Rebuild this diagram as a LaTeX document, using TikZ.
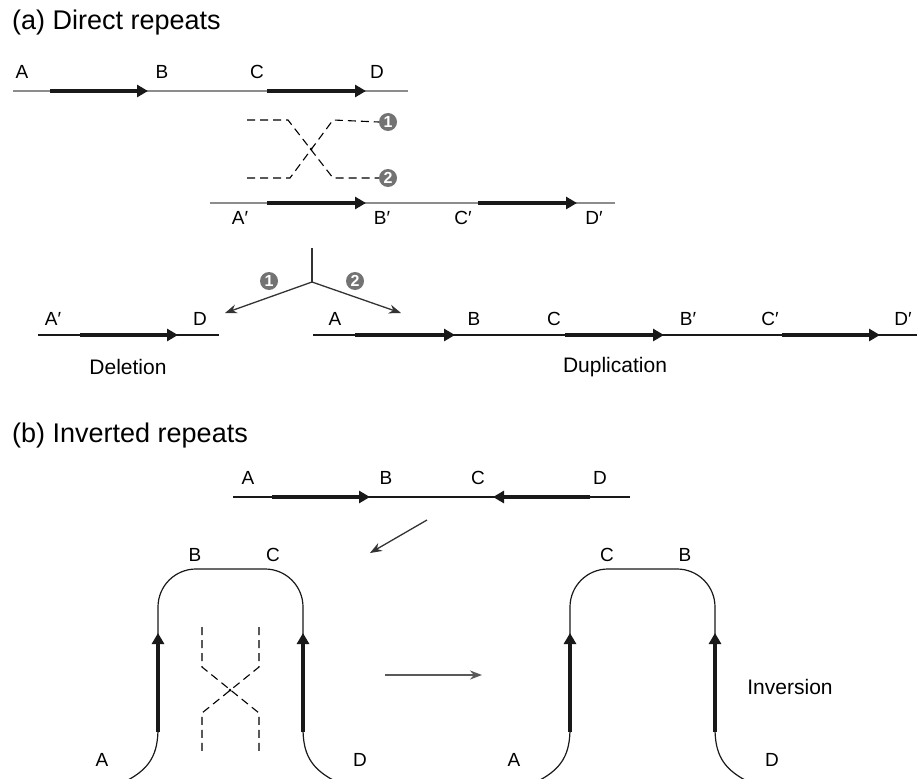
\documentclass[tikz,border=0pt]{standalone}
\usepackage{fontspec}
\setmainfont{Liberation Sans}
\usetikzlibrary{arrows.meta}

\tikzset{
	dna/.style = {line width = 1.2pt, black!90},
	grey dna/.style = {line width = 2pt, black!45},
	rep/.style = {line width = 4pt, black!90, -{Triangle[length = 11pt, width = 12pt]}},
	swap/.style = {line width = 1.1pt, dash pattern = on 8pt off 5pt},
	lbl/.style = {inner sep = 0pt, font = \fontsize{19}{19}\selectfont},
	caption/.style = {inner sep = 0pt, font = \fontsize{21}{21}\selectfont},
	ttl/.style = {inner sep = 0pt, anchor = west, font = \fontsize{27}{27}\selectfont},
	num/.style = {circle, fill = black!55, text = white, inner sep = 0pt, minimum size = 18pt, font = \fontsize{16}{16}\selectfont\bfseries},
	to arrow/.style = {line width = 1.3pt, black!80, -{Stealth[length = 12pt, width = 9pt]}}
}

\begin{document}
\begin{tikzpicture}[x = 1pt, y = -1pt]
	\useasboundingbox (0,0) rectangle (917,778);

	\node[ttl] (title a) at (12,23) {(a) Direct repeats};

	\draw[grey dna] (13,91) -- (408,91);
	\draw[rep] (50,91) -- (148,91);
	\draw[rep] (267,91) -- (366,91);
	\node[lbl] (a A) at (22,72) {A};
	\node[lbl] (a B) at (162,72) {B};
	\node[lbl] (a C) at (257,72) {C};
	\node[lbl] (a D) at (377,72) {D};

	\node[num] (cross one) at (388,122) {1};
	\node[num] (cross two) at (388,178) {2};
	\draw[swap] (247,120) -- (288,120) -- (333,178) -- (cross two.west);
	\draw[swap] (247,178) -- (290,178) -- (333,120) -- (cross one.west);
	\fill (311,149) circle [radius = 1.5pt];

	\draw[grey dna] (210,203) -- (615,203);
	\draw[rep] (267,203) -- (366,203);
	\draw[rep] (478,203) -- (577,203);
	\node[lbl] (a A2) at (240,218) {A′};
	\node[lbl] (a B2) at (382,218) {B′};
	\node[lbl] (a C2) at (463,218) {C′};
	\node[lbl] (a D2) at (594,218) {D′};

	\coordinate (stem) at (312,248);
	\coordinate (fork) at (312,282);
	\coordinate (deletion end) at (225,313);
	\coordinate (duplication end) at (401,313);
	\draw[line width = 1.3pt, black!80] (stem) -- (fork);
	\draw[to arrow] (fork) -- (deletion end);
	\draw[to arrow] (fork) -- (duplication end);
	\node[num] (path one) at (269,281) {1};
	\node[num] (path two) at (355,281) {2};

	\draw[dna] (38,335) -- (219,335);
	\draw[rep] (80,335) -- (178,335);
	\node[lbl] (del A) at (53,319) {A′};
	\node[lbl] (del D) at (200,319) {D};
	\node[caption] (deletion) at (128,367) {Deletion};

	\draw[dna] (313,335) -- (917,335);
	\draw[rep] (355,335) -- (455,335);
	\draw[rep] (565,335) -- (664,335);
	\draw[rep] (782,335) -- (880,335);
	\node[lbl] (dup A) at (335,319) {A};
	\node[lbl] (dup B) at (474,319) {B};
	\node[lbl] (dup C) at (554,319) {C};
	\node[lbl] (dup B2) at (688,319) {B′};
	\node[lbl] (dup C2) at (770,319) {C′};
	\node[lbl] (dup D2) at (903,319) {D′};
	\node[caption] (duplication) at (615,367) {Duplication};

	\node[ttl] (title b) at (12,436) {(b) Inverted repeats};

	\draw[dna] (233,497) -- (630,497);
	\draw[rep] (272,497) -- (370,497);
	\draw[rep] (590,497) -- (493,497);
	\node[lbl] (b A) at (248,478) {A};
	\node[lbl] (b B) at (386,478) {B};
	\node[lbl] (b C) at (478,478) {C};
	\node[lbl] (b D) at (600,478) {D};

	\coordinate (fold start) at (427,520);
	\coordinate (fold end) at (370,553);
	\draw[to arrow] (fold start) -- (fold end);

	\foreach \dx/\first/\second in {0/B/C, 412/C/B} {
		\begin{scope}[xshift = \dx]
			\draw[dna] (128,780) .. controls (150,768) and (158,754) .. (158,728);
			\draw[dna, rounded corners = 38pt] (158,729) -- (158,569) -- (303,569) -- (303,729);
			\draw[dna] (303,728) .. controls (303,754) and (311,768) .. (333,780);
			\draw[rep] (158,732) -- (158,633);
			\draw[rep] (303,732) -- (303,633);
			\node[lbl] at (195,555) {\first};
			\node[lbl] at (273,555) {\second};
			\node[lbl] at (102,760) {A};
			\node[lbl] at (360,760) {D};
		\end{scope}
	}

	\draw[swap] (202,627) -- (202,667) -- (259,713) -- (259,753);
	\draw[swap] (259,627) -- (259,667) -- (202,713) -- (202,753);
	\fill (230,690) circle [radius = 1.5pt];

	\coordinate (swap start) at (385,675);
	\coordinate (swap end) at (482,675);
	\draw[to arrow, line width = 2pt, black!65] (swap start) -- (swap end);
	\node[caption] (inversion) at (790,687) {Inversion};
\end{tikzpicture}
\end{document}
